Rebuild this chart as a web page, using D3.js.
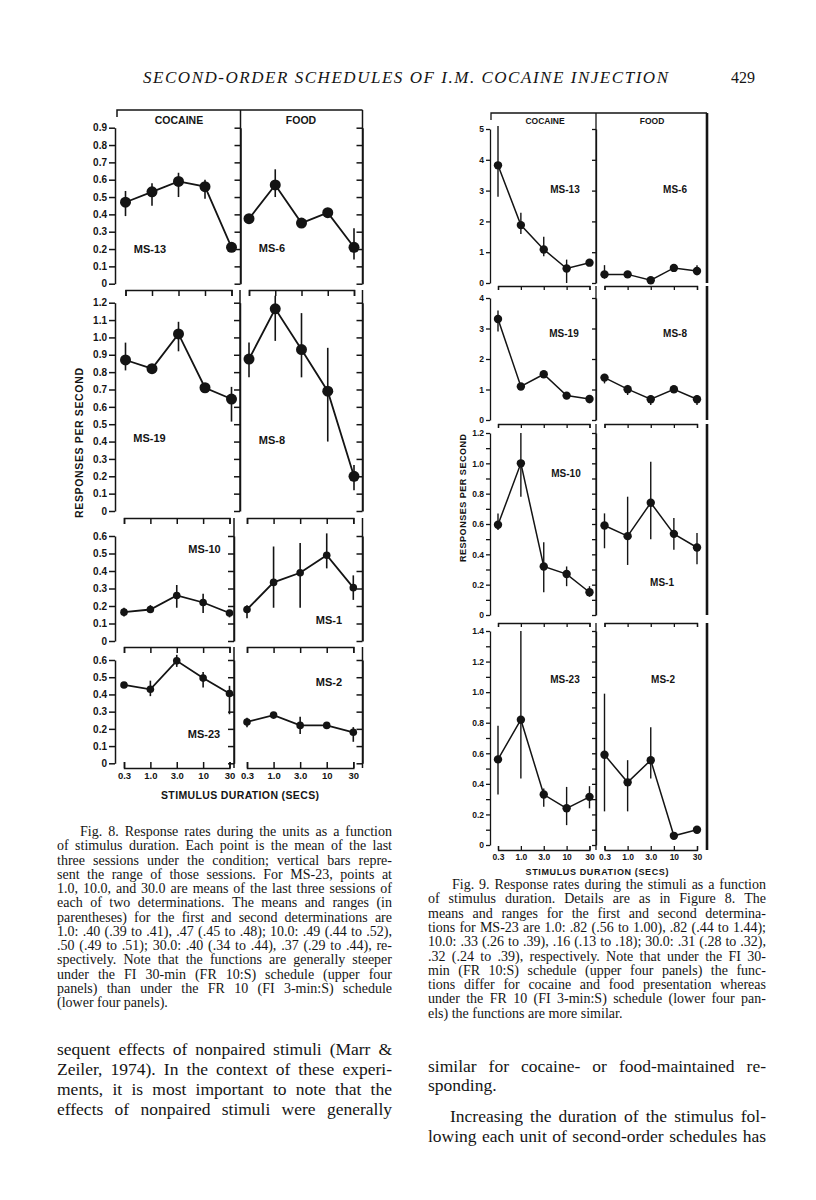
<!DOCTYPE html>
<html>
<head>
<meta charset="utf-8">
<script src="https://cdn.jsdelivr.net/npm/d3@7"></script>
<style>
  body { margin: 0; background: #fff; }
  svg { display: block; }
</style>
</head>
<body>
<svg width="816" height="1200"></svg>
<script>
// stimulus durations (x categories), same for both figures
var durations = ["0.3", "1.0", "3.0", "10", "30"];

// Fig. 8 - responses during the units: [mean, low, high] per duration
var f8_ms13 = [[0.47, 0.39, 0.535], [0.53, 0.45, 0.58], [0.59, 0.50, 0.64], [0.56, 0.49, 0.60], [0.21, 0.21, 0.21]];
var f8_ms6  = [[0.375, 0.375, 0.375], [0.57, 0.50, 0.66], [0.35, 0.35, 0.35], [0.41, 0.41, 0.41], [0.21, 0.14, 0.32]];
var f8_ms19 = [[0.87, 0.81, 0.97], [0.82, 0.82, 0.82], [1.02, 0.92, 1.09], [0.71, 0.71, 0.71], [0.645, 0.515, 0.715]];
var f8_ms8  = [[0.875, 0.77, 0.97], [1.165, 0.98, 1.24], [0.93, 0.77, 1.14], [0.69, 0.40, 0.94], [0.20, 0.12, 0.265]];
var f8_ms10 = [[0.165, 0.14, 0.19], [0.18, 0.16, 0.205], [0.26, 0.19, 0.32], [0.22, 0.16, 0.27], [0.16, 0.135, 0.175]];
var f8_ms1  = [[0.18, 0.13, 0.205], [0.335, 0.19, 0.54], [0.39, 0.19, 0.56], [0.49, 0.415, 0.615], [0.305, 0.235, 0.375]];
var f8_ms23 = [[0.455, 0.455, 0.455], [0.43, 0.39, 0.48], [0.595, 0.56, 0.63], [0.495, 0.44, 0.53], [0.405, 0.285, 0.45]];
var f8_ms2  = [[0.24, 0.21, 0.265], [0.28, 0.28, 0.28], [0.22, 0.17, 0.27], [0.22, 0.22, 0.22], [0.18, 0.125, 0.21]];

// Fig. 9 - responses during the stimuli
var f9_ms13 = [[3.82, 2.8, 5.1], [1.88, 1.59, 2.28], [1.09, 0.87, 1.5], [0.47, 0, 0.76], [0.66, 0.66, 0.66]];
var f9_ms6  = [[0.28, 0.14, 0.58], [0.28, 0.28, 0.28], [0.09, 0.09, 0.09], [0.49, 0.49, 0.49], [0.39, 0.25, 0.58]];
var f9_ms19 = [[3.31, 2.9, 3.59], [1.10, 1.10, 1.10], [1.5, 1.5, 1.5], [0.8, 0.8, 0.8], [0.69, 0.55, 0.82]];
var f9_ms8  = [[1.39, 1.2, 1.51], [1.01, 0.82, 1.15], [0.68, 0.49, 0.82], [1.01, 1.01, 1.01], [0.68, 0.49, 0.82]];
var f9_ms10 = [[0.595, 0.56, 0.67], [1.0, 0.78, 1.2], [0.32, 0.15, 0.48], [0.27, 0.19, 0.32], [0.15, 0.12, 0.19]];
var f9_ms1  = [[0.59, 0.44, 0.67], [0.52, 0.33, 0.78], [0.74, 0.5, 1.01], [0.535, 0.43, 0.64], [0.445, 0.335, 0.54]];
var f9_ms23 = [[0.56, 0.33, 0.78], [0.82, 0.435, 1.4], [0.33, 0.25, 0.37], [0.24, 0.13, 0.38], [0.315, 0.24, 0.385]];
var f9_ms2  = [[0.59, 0.22, 0.99], [0.41, 0.22, 0.555], [0.555, 0.435, 0.77], [0.06, 0.06, 0.06], [0.10, 0.10, 0.10]];

// y tick values
var f8_ticks09 = [0, 0.1, 0.2, 0.3, 0.4, 0.5, 0.6, 0.7, 0.8, 0.9];
var f8_ticks12 = [0, 0.1, 0.2, 0.3, 0.4, 0.5, 0.6, 0.7, 0.8, 0.9, 1.0, 1.1, 1.2];
var f8_ticks06 = [0, 0.1, 0.2, 0.3, 0.4, 0.5, 0.6];
var f9_ticks5 = [0, 1, 2, 3, 4, 5];
var f9_ticks4 = [0, 1, 2, 3, 4];
var f9_ticks12 = [0, 0.1, 0.2, 0.3, 0.4, 0.5, 0.6, 0.7, 0.8, 0.9, 1.0, 1.1, 1.2];
var f9_ticks14 = [0, 0.1, 0.2, 0.3, 0.4, 0.5, 0.6, 0.7, 0.8, 0.9, 1.0, 1.1, 1.2, 1.3, 1.4];

var svg = d3.select("svg");
var ink = "#141414";
var sans = "'Liberation Sans', Arial, sans-serif";
var serif = "'Liberation Serif', 'Times New Roman', serif";

var fmtDec = function(d) { return d === 0 ? "0" : d3.format(".1f")(d); };
var fmtInt = function(d) { return String(d); };
var fmtEven = function(d) {
  if (d === 0) return "0";
  return Math.round(d * 10) % 2 === 0 ? d3.format(".1f")(d) : "";
};

// page header
svg.append("text")
  .attr("x", 143).attr("y", 83)
  .attr("font-family", serif).attr("font-style", "italic").attr("font-size", 17)
  .attr("textLength", 525).attr("lengthAdjust", "spacing")
  .attr("fill", ink)
  .text("SECOND-ORDER SCHEDULES OF I.M. COCAINE INJECTION");
svg.append("text")
  .attr("x", 731).attr("y", 83)
  .attr("font-family", serif).attr("font-size", 16).attr("fill", ink)
  .text("429");

function styleAxis(g, size, sw) {
  g.attr("font-family", sans).attr("font-weight", "bold").attr("font-size", size);
  g.selectAll("path, line").attr("stroke", ink).attr("stroke-width", sw);
  g.selectAll("text").attr("fill", ink);
}

function drawFigure(f) {
  f.rows.forEach(function(row, ri) {
    var y = d3.scaleLinear().domain([0, row.max]).range([row.zero, row.maxPx]);
    var xs = row.xr.map(function(r) {
      return d3.scalePoint().domain(durations).range(r);
    });

    // labelled left axis
    var gl = svg.append("g")
      .attr("transform", "translate(" + f.left + ",0)")
      .call(d3.axisLeft(y).tickValues(row.ticks).tickSize(f.tick).tickSizeOuter(0)
        .tickPadding(2).tickFormat(row.fmt));
    styleAxis(gl, f.labelSize, f.sw);

    // divider (cocaine right axis), ticks pointing inward
    var gm = svg.append("g")
      .attr("transform", "translate(" + row.mid + ",0)")
      .call(d3.axisLeft(y).tickValues(row.ticks).tickSize(f.tick).tickSizeOuter(0).tickFormat(""));
    styleAxis(gm, f.labelSize, f.sw);
    svg.append("line")
      .attr("x1", row.mid).attr("x2", row.mid)
      .attr("y1", row.top).attr("y2", row.bottom || row.zero)
      .attr("stroke", ink).attr("stroke-width", f.sw);

    // right edge
    if (f.rightTicks) {
      var gr = svg.append("g")
        .attr("transform", "translate(" + f.right + ",0)")
        .call(d3.axisLeft(y).tickValues(row.ticks).tickSize(f.tick).tickSizeOuter(0).tickFormat(""));
      styleAxis(gr, f.labelSize, f.sw);
    }
    svg.append("line")
      .attr("x1", f.right).attr("x2", f.right)
      .attr("y1", row.top).attr("y2", row.bottom || row.zero)
      .attr("stroke", ink).attr("stroke-width", f.rightSw);

    // top axis with ticks pointing down (not for the first row, which has the frame)
    if (ri > 0) {
      xs.forEach(function(x) {
        var gt = svg.append("g")
          .attr("transform", "translate(0," + row.top + ")")
          .call(d3.axisBottom(x).tickSize(f.tick).tickFormat(""));
        styleAxis(gt, f.labelSize, f.sw);
      });
    }

    // bottom axis on the last row
    if (row.bottom) {
      xs.forEach(function(x) {
        var gb = svg.append("g")
          .attr("transform", "translate(0," + row.bottom + ")")
          .call(d3.axisBottom(x).tickSizeInner(-f.tick).tickSizeOuter(-f.tick)
            .tickPadding(f.xPad));
        styleAxis(gb, f.xLabelSize, f.sw);
      });
    }

    // series
    row.data.forEach(function(series, ci) {
      var x = xs[ci];
      var line = d3.line()
        .x(function(d, i) { return x(durations[i]); })
        .y(function(d) { return y(d[0]); });
      svg.append("path")
        .datum(series)
        .attr("d", line)
        .attr("fill", "none").attr("stroke", ink).attr("stroke-width", f.lineW);
      svg.append("g").selectAll("line")
        .data(series.filter(function(d) { return d[2] > d[1]; }))
        .enter().append("line")
        .attr("x1", function(d) { return x(durations[series.indexOf(d)]); })
        .attr("x2", function(d) { return x(durations[series.indexOf(d)]); })
        .attr("y1", function(d) { return y(d[1]); })
        .attr("y2", function(d) { return y(d[2]); })
        .attr("stroke", ink).attr("stroke-width", f.barW);
      svg.append("g").selectAll("circle")
        .data(series)
        .enter().append("circle")
        .attr("cx", function(d, i) { return x(durations[i]); })
        .attr("cy", function(d) { return y(d[0]); })
        .attr("r", row.r)
        .attr("fill", ink);
      svg.append("text")
        .attr("x", row.pos[ci][0]).attr("y", row.pos[ci][1])
        .attr("text-anchor", "middle").attr("dominant-baseline", "central")
        .attr("font-family", sans).attr("font-weight", "bold")
        .attr("font-size", f.nameSize).attr("fill", ink)
        .text(row.names[ci]);
    });
  });

  // top frame
  svg.append("path")
    .attr("d", "M" + f.frameL + "," + (f.frameTop + 7) + "V" + f.frameTop + "H" + f.right)
    .attr("fill", "none").attr("stroke", ink).attr("stroke-width", f.sw);

  // column titles
  f.heads.forEach(function(h) {
    svg.append("text")
      .attr("x", h[1]).attr("y", f.headY)
      .attr("text-anchor", "middle").attr("dominant-baseline", "central")
      .attr("font-family", sans).attr("font-weight", "bold")
      .attr("font-size", f.headSize).attr("fill", ink)
      .text(h[0]);
  });

  // axis titles
  svg.append("text")
    .attr("transform", "translate(" + f.yTitle[0] + "," + f.yTitle[1] + ") rotate(-90)")
    .attr("x", -f.yTitle[2] / 2).attr("dominant-baseline", "central")
    .attr("font-family", sans).attr("font-weight", "bold")
    .attr("font-size", f.titleSize).attr("fill", ink)
    .attr("textLength", f.yTitle[2]).attr("lengthAdjust", "spacing")
    .text("RESPONSES PER SECOND");
  svg.append("text")
    .attr("x", f.xTitle[0] - f.xTitle[2] / 2).attr("y", f.xTitle[1])
    .attr("dominant-baseline", "central")
    .attr("font-family", sans).attr("font-weight", "bold")
    .attr("font-size", f.titleSize).attr("fill", ink)
    .attr("textLength", f.xTitle[2]).attr("lengthAdjust", "spacing")
    .text("STIMULUS DURATION (SECS)");
}

var r12 = [[125.5, 231.5], [249, 354]];
var r34 = [[124, 229.5], [247, 353.3]];

drawFigure({
  left: 115, right: 362.5, frameL: 117, frameTop: 110, rightTicks: true,
  tick: 6, sw: 1.5, rightSw: 1.5, lineW: 1.8, barW: 1.6,
  labelSize: 10, xLabelSize: 9.5, xPad: 4, nameSize: 11, headSize: 10.5, titleSize: 10.5,
  headY: 120, heads: [["COCAINE", 179], ["FOOD", 301]],
  yTitle: [79, 443, 150], xTitle: [240, 795, 158],
  rows: [
    { top: 110, zero: 283.7, max: 0.9, maxPx: 127.7, mid: 240.5, xr: r12, ticks: f8_ticks09, fmt: fmtDec,
      data: [f8_ms13, f8_ms6], names: ["MS-13", "MS-6"], pos: [[150, 249], [272, 248]], r: 5.5 },
    { top: 290, zero: 511, max: 1.2, maxPx: 302.7, mid: 240, xr: r12, ticks: f8_ticks12, fmt: fmtDec,
      data: [f8_ms19, f8_ms8], names: ["MS-19", "MS-8"], pos: [[149.5, 438], [272, 440]], r: 5.5 },
    { top: 518, zero: 641, max: 0.6, maxPx: 536, mid: 234, xr: r34, ticks: f8_ticks06, fmt: fmtDec,
      data: [f8_ms10, f8_ms1], names: ["MS-10", "MS-1"], pos: [[204.5, 549], [329, 620]], r: 3.8 },
    { top: 647, zero: 763.3, max: 0.6, maxPx: 660, mid: 234, bottom: 768, xr: r34, ticks: f8_ticks06, fmt: fmtDec,
      data: [f8_ms23, f8_ms2], names: ["MS-23", "MS-2"], pos: [[204, 734], [329, 682]], r: 3.8 }
  ]
});

var r9 = [[498, 589.5], [604.5, 697]];

drawFigure({
  left: 490, right: 707, frameL: 491, frameTop: 113, rightTicks: false,
  tick: 4, sw: 1.3, rightSw: 2.6, lineW: 1.5, barW: 1.4,
  labelSize: 8.5, xLabelSize: 8.5, xPad: 4, nameSize: 10, headSize: 8.5, titleSize: 9,
  headY: 121, heads: [["COCAINE", 545], ["FOOD", 652]],
  yTitle: [463, 498, 128], xTitle: [597, 872, 143],
  rows: [
    { top: 113, zero: 283, max: 5, maxPx: 129, mid: 596, xr: r9, ticks: f9_ticks5, fmt: fmtInt,
      data: [f9_ms13, f9_ms6], names: ["MS-13", "MS-6"], pos: [[565, 189], [675, 189]], r: 4.2 },
    { top: 286, zero: 420, max: 4, maxPx: 298, mid: 596, xr: r9, ticks: f9_ticks4, fmt: fmtInt,
      data: [f9_ms19, f9_ms8], names: ["MS-19", "MS-8"], pos: [[564, 333], [675, 333]], r: 4.2 },
    { top: 424, zero: 615, max: 1.2, maxPx: 433, mid: 596, xr: r9, ticks: f9_ticks12, fmt: fmtEven,
      data: [f9_ms10, f9_ms1], names: ["MS-10", "MS-1"], pos: [[566, 473], [662, 582]], r: 4.2 },
    { top: 623, zero: 845, max: 1.4, maxPx: 631, mid: 596, bottom: 850, xr: r9, ticks: f9_ticks14, fmt: fmtEven,
      data: [f9_ms23, f9_ms2], names: ["MS-23", "MS-2"], pos: [[565, 679], [663, 679]], r: 4.2 }
  ]
});

// captions and running text
var cap8 = [
  "Fig. 8. Response rates during the units as a function",
  "of stimulus duration. Each point is the mean of the last",
  "three sessions under the condition; vertical bars repre-",
  "sent the range of those sessions. For MS-23, points at",
  "1.0, 10.0, and 30.0 are means of the last three sessions of",
  "each of two determinations. The means and ranges (in",
  "parentheses) for the first and second determinations are",
  "1.0: .40 (.39 to .41), .47 (.45 to .48); 10.0: .49 (.44 to .52),",
  ".50 (.49 to .51); 30.0: .40 (.34 to .44), .37 (.29 to .44), re-",
  "spectively. Note that the functions are generally steeper",
  "under the FI 30-min (FR 10:S) schedule (upper four",
  "panels) than under the FR 10 (FI 3-min:S) schedule",
  "(lower four panels)."
];
var cap9 = [
  "Fig. 9. Response rates during the stimuli as a function",
  "of stimulus duration. Details are as in Figure 8. The",
  "means and ranges for the first and second determina-",
  "tions for MS-23 are 1.0: .82 (.56 to 1.00), .82 (.44 to 1.44);",
  "10.0: .33 (.26 to .39), .16 (.13 to .18); 30.0: .31 (.28 to .32),",
  ".32 (.24 to .39), respectively. Note that under the FI 30-",
  "min (FR 10:S) schedule (upper four panels) the func-",
  "tions differ for cocaine and food presentation whereas",
  "under the FR 10 (FI 3-min:S) schedule (lower four pan-",
  "els) the functions are more similar."
];
var bodyL = [
  "sequent effects of nonpaired stimuli (Marr &",
  "Zeiler, 1974). In the context of these experi-",
  "ments, it is most important to note that the",
  "effects of nonpaired stimuli were generally"
];
var bodyR = [
  "similar for cocaine- or food-maintained re-",
  "sponding.",
  "Increasing the duration of the stimulus fol-",
  "lowing each unit of second-order schedules has"
];

// justified lines: words as tspans, gaps spread evenly across the line
function para(lines, opts) {
  lines.forEach(function(t, i) {
    var x = opts.indent.indexOf(i) >= 0 ? opts.x0 + opts.ind : opts.x0;
    var tx = svg.append("text")
      .attr("y", opts.ys[i])
      .attr("font-family", serif).attr("font-size", opts.size).attr("fill", ink);
    if (opts.ragged.indexOf(i) >= 0) {
      tx.attr("x", x).text(t);
      return;
    }
    var words = t.split(" ");
    var spans = words.map(function(w) { return tx.append("tspan").text(w); });
    var widths = spans.map(function(s) { return s.node().getComputedTextLength(); });
    var gap = (opts.x1 - x - d3.sum(widths)) / (words.length - 1);
    var cx = x;
    spans.forEach(function(s, k) {
      s.attr("x", cx);
      cx += widths[k] + gap;
    });
  });
}

para(cap8, { x0: 57, x1: 392, ind: 23, indent: [0], ragged: [12], size: 14,
  ys: d3.range(13).map(function(i) { return 836 + i * 14.25; }) });
para(cap9, { x0: 428, x1: 766, ind: 24, indent: [0], ragged: [9], size: 14,
  ys: d3.range(10).map(function(i) { return 889 + i * 14.3; }) });
para(bodyL, { x0: 57, x1: 392, ind: 0, indent: [], ragged: [], size: 17.5,
  ys: [1055, 1075, 1095, 1115] });
para(bodyR, { x0: 428, x1: 766, ind: 22, indent: [2], ragged: [1], size: 17.5,
  ys: [1072, 1091, 1122, 1142] });
</script>
</body>
</html>
